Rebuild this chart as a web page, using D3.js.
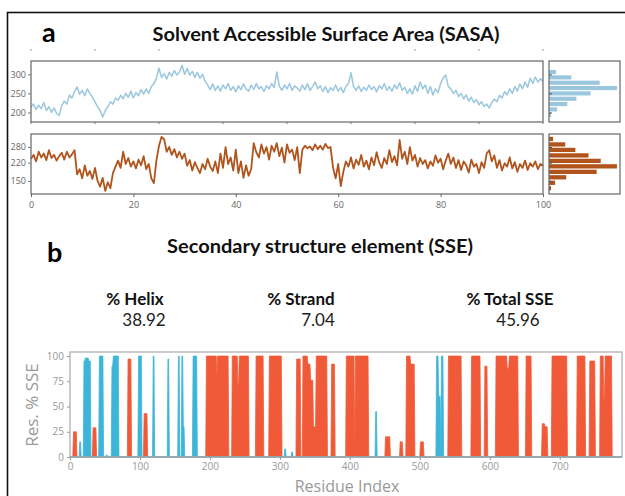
<!DOCTYPE html>
<html>
<head>
<meta charset="utf-8">
<script src="https://cdn.jsdelivr.net/npm/d3@7"></script>
<style>
  body { margin: 0; background: #fff; }
  svg { display: block; }
</style>
</head>
<body>
<svg width="625" height="496"></svg>
<script>
// SASA traces, one value every 0.5 ns from 0 to 100 ns
const sasaStep = 0.5;
const sasaTop = [
  214,222,208,219,210,226,205,215,200,212,198,192,218,230,222,246,238,255,267,248,
  258,244,262,250,240,228,215,205,188,205,215,228,222,238,232,245,236,250,240,256,
  238,252,244,260,248,262,250,268,275,290,316,292,302,288,305,295,310,298,306,324,
  300,316,298,308,292,305,290,300,282,272,260,275,258,270,256,272,262,276,258,268,
  254,270,260,275,262,256,272,260,276,262,268,255,270,262,276,265,306,270,258,272,
  262,276,258,270,264,256,272,260,275,258,268,280,262,270,255,268,252,265,258,272,
  256,266,252,268,276,304,268,258,270,255,266,258,272,260,268,254,270,262,276,258,
  268,256,272,262,278,258,266,250,262,248,270,255,280,262,272,250,268,246,262,252,
  276,290,298,268,262,250,258,242,250,236,246,230,240,226,234,220,228,216,222,212,
  226,235,228,245,238,255,246,262,250,268,256,275,262,280,266,290,276,293,280,288,
  282
];
const sasaBottom = [
  235,250,225,262,240,255,230,268,238,250,228,245,258,232,262,240,252,268,175,195,
  160,210,170,188,158,200,150,128,162,112,145,122,180,205,228,200,262,215,238,205,
  225,198,232,210,245,195,215,160,142,230,285,319,310,262,280,250,272,240,262,235,
  255,208,230,190,222,200,180,215,195,235,205,188,225,180,255,200,280,215,240,190,
  270,180,225,162,210,170,195,295,260,240,290,255,280,232,285,262,295,245,278,220,
  290,258,270,230,280,180,270,285,275,282,268,290,272,285,270,292,276,280,200,160,
  215,130,185,225,205,240,198,232,212,250,205,228,195,240,210,260,222,200,238,215,
  268,222,245,210,307,235,262,215,280,228,250,205,238,215,230,198,225,208,248,220,
  235,195,228,255,215,240,200,230,192,225,210,182,232,205,215,180,222,200,255,268,
  225,248,200,230,190,218,205,240,198,222,185,215,200,228,192,218,205,225,195,215,
  208
];

// marginal histograms (bin centre, frame count)
const histTopBins = [306, 292, 278, 264, 250, 236, 222, 208, 194];
const histTopCounts = [7, 22, 50, 67, 41, 27, 18, 8, 2];
const histBottomBins = [311, 290, 269, 248, 227, 206, 185, 164, 143, 122];
const histBottomCounts = [4, 16, 26, 39, 51, 67, 47, 17, 6, 2];

const timeTicks = [0, 20, 40, 60, 80, 100];
const faintTicks = [0, 12.5, 25, 75, 87.5, 100];
const topTicks = [200, 250, 300];
const bottomTicks = [150, 220, 280];

// secondary structure per residue: [first residue, last residue, % of frames]
const helixSegs = [
  [5,9,25],[33,37,29],[83,87,97],[106,110,43],[195,209,100],[209,211,80],[211,226,100],
  [232,239,100],[239,242,72],[242,255,100],[266,276,100],[285,302,100],[324,329,97],
  [333,339,100],[339,343,92],[343,347,76],[347,351,30],[352,367,100],[374,378,92],
  [395,406,100],[408,426,100],[451,457,20],[472,475,15],[481,486,100],[486,492,92],
  [501,505,15],[541,559,100],[574,586,100],[593,596,90],[609,624,100],[624,628,88],
  [628,640,100],[652,659,100],[675,678,33],[679,682,30],[689,710,100],[725,736,100],
  [743,750,95],[758,762,100],[762,765,58],[765,774,100]
];
const strandSegs = [
  [14,15,15],[20,22,95],[22,26,98],[27,29,95],[42,47,100],[52,53,2],[60,62,90],
  [62,69,100],[98,102,100],[119,120,100],[140,141,97],[155,156,100],[160,161,100],
  [162,163,30],[176,181,100],[307,308,8],[317,318,5],[437,438,45],[524,526,100],
  [527,529,60],[531,533,100]
];
const residueCount = 789;
const sseTicksX = [0, 100, 200, 300, 400, 500, 600, 700];
const sseTicksY = [0, 25, 50, 75, 100];

const statLabels = ["% Helix", "% Strand", "% Total SSE"];
const statValues = ["38.92", "7.04", "45.96"];

const svg = d3.select("svg");
const calibri = "Lato, 'Open Sans', sans-serif";
const plain = "'Open Sans', 'DejaVu Sans', sans-serif";

// outer frame
svg.append("rect")
  .attr("x", 7.5).attr("y", 12.5).attr("width", 700).attr("height", 600)
  .attr("fill", "none").attr("stroke", "#111").attr("stroke-width", 1.6);

// ---------- panel a ----------
svg.append("text").attr("x", 42).attr("y", 42)
  .style("font", "bold 27px " + calibri).text("a");
svg.append("text").attr("x", 326).attr("y", 41).attr("text-anchor", "middle")
  .attr("textLength", 347).attr("lengthAdjust", "spacingAndGlyphs")
  .style("font", "bold 19px " + calibri).style("fill", "#111")
  .text("Solvent Accessible Surface Area (SASA)");

const x = d3.scaleLinear().domain([0, 100]).range([31, 543]);
const hx = d3.scaleLinear().domain([0, 70]).range([549, 620]);

svg.append("g").selectAll("line").data(faintTicks).enter().append("line")
  .attr("x1", d => x(d)).attr("x2", d => x(d)).attr("y1", 49).attr("y2", 51)
  .attr("stroke", "#bbb").attr("stroke-width", 1.5);

function tracePanel(values, y, ticks, color, bins, counts, binWidth, showX) {
  const [bottom, top] = y.range();
  const g = svg.append("g");

  const line = d3.line()
    .x((d, i) => x(i * sasaStep))
    .y(d => y(d));
  g.append("path").datum(values)
    .attr("d", line).attr("fill", "none")
    .attr("stroke", color).attr("stroke-width", showX ? 1.8 : 1.5)
    .attr("stroke-linejoin", "round");

  g.append("rect").attr("x", x(0)).attr("y", top)
    .attr("width", x(100) - x(0)).attr("height", bottom - top)
    .attr("fill", "none").attr("stroke", "#666").attr("stroke-width", 1.2);

  const yAxis = g.append("g").attr("transform", `translate(${x(0)},0)`)
    .call(d3.axisLeft(y).tickValues(ticks).tickSize(3).tickPadding(2));
  yAxis.select(".domain").remove();
  yAxis.selectAll("line").attr("stroke", "#777");
  yAxis.selectAll("text").style("font", "9px " + plain).style("fill", "#666");

  // marginal histogram
  g.selectAll("rect.bar").data(bins).enter().append("rect")
    .attr("class", "bar")
    .attr("x", hx(0))
    .attr("y", d => y(d + binWidth / 2) + 0.6)
    .attr("width", (d, i) => hx(counts[i]) - hx(0))
    .attr("height", d => y(d - binWidth / 2) - y(d + binWidth / 2) - 1.2)
    .attr("fill", color);
  g.append("rect").attr("x", hx(0)).attr("y", top)
    .attr("width", hx(70) - hx(0)).attr("height", bottom - top)
    .attr("fill", "none").attr("stroke", "#666").attr("stroke-width", 1.2);
  const hAxis = g.append("g").attr("transform", `translate(${hx(0)},0)`)
    .call(d3.axisRight(y).tickValues(ticks).tickSize(3).tickFormat(""));
  hAxis.select(".domain").remove();
  hAxis.selectAll("line").attr("stroke", "#555");

  if (showX) {
    const xAxis = g.append("g").attr("transform", `translate(0,${bottom})`)
      .call(d3.axisBottom(x).tickValues(timeTicks).tickSize(3).tickPadding(5));
    xAxis.select(".domain").remove();
    xAxis.selectAll("line").attr("stroke", "#666");
    xAxis.selectAll("text").style("font", "9px " + plain).style("fill", "#666");
  } else {
    g.selectAll("line.ft").data(d3.range(0, 101, 12.5)).enter().append("line")
      .attr("x1", d => x(d)).attr("x2", d => x(d))
      .attr("y1", bottom).attr("y2", bottom + 2)
      .attr("stroke", "#777");
  }
}

const yTop = d3.scaleLinear().domain([175, 335]).range([122, 61]);
const yBottom = d3.scaleLinear().domain([100, 330]).range([194, 134]);
tracePanel(sasaTop, yTop, topTicks, "#9ac7de", histTopBins, histTopCounts, 14, false);
tracePanel(sasaBottom, yBottom, bottomTicks, "#b0541c", histBottomBins, histBottomCounts, 21, true);

// ---------- panel b ----------
svg.append("text").attr("x", 47).attr("y", 262)
  .style("font", "bold 27px " + calibri).text("b");
svg.append("text").attr("x", 320).attr("y", 253).attr("text-anchor", "middle")
  .attr("textLength", 306).attr("lengthAdjust", "spacingAndGlyphs")
  .style("font", "bold 18px " + calibri).style("fill", "#111")
  .text("Secondary structure element (SSE)");

const labelX = [135, 301, 510];
const valueX = [144, 318, 518];
svg.append("g").selectAll("text").data(statLabels).enter().append("text")
  .attr("x", (d, i) => labelX[i]).attr("y", 305).attr("text-anchor", "middle")
  .style("font", "bold 17px " + calibri).style("fill", "#111").text(d => d);
svg.append("g").selectAll("text").data(statValues).enter().append("text")
  .attr("x", (d, i) => valueX[i]).attr("y", 326).attr("text-anchor", "middle")
  .style("font", "17px " + calibri).style("fill", "#222").text(d => d);

const sx = d3.scaleLinear().domain([0, residueCount]).range([70, 622]);
const sy = d3.scaleLinear().domain([0, 104]).range([457, 352]);

function profile(segs) {
  const p = new Array(residueCount + 1).fill(0);
  segs.forEach(([s, e, h]) => { for (let r = s; r <= e; r++) p[r] = Math.max(p[r], h); });
  return p;
}
const area = d3.area()
  .x((d, i) => sx(i)).y0(sy(0)).y1(d => sy(d));

const sseG = svg.append("g");
sseG.append("path").datum(profile(helixSegs))
  .attr("d", area).attr("fill", "#f05a38")
  .attr("stroke", "#f05a38").attr("stroke-width", 0.8);
sseG.append("path").datum(profile(strandSegs))
  .attr("d", area).attr("fill", "#3cb5d8")
  .attr("stroke", "#3cb5d8").attr("stroke-width", 0.8);

sseG.append("rect").attr("x", sx(0)).attr("y", 352)
  .attr("width", sx(residueCount) - sx(0)).attr("height", 457 - 352)
  .attr("fill", "none").attr("stroke", "#aaa").attr("stroke-width", 1.2);

const sxAxis = sseG.append("g").attr("transform", `translate(0,${sy(0)})`)
  .call(d3.axisBottom(sx).tickValues(sseTicksX).tickSize(3).tickPadding(3));
sxAxis.select(".domain").remove();
sxAxis.selectAll("line").attr("stroke", "#999");
sxAxis.selectAll("text").style("font", "10px " + plain).style("fill", "#999");

const syAxis = sseG.append("g").attr("transform", `translate(${sx(0)},0)`)
  .call(d3.axisLeft(sy).tickValues(sseTicksY).tickSize(3).tickPadding(3));
syAxis.select(".domain").remove();
syAxis.selectAll("line").attr("stroke", "#999");
syAxis.selectAll("text").style("font", "10px " + plain).style("fill", "#999");

sseG.append("text").attr("transform", "translate(38,405) rotate(-90)")
  .attr("text-anchor", "middle")
  .style("font", "17px " + plain).style("fill", "#999").text("Res. % SSE");
sseG.append("text").attr("x", 347).attr("y", 492).attr("text-anchor", "middle")
  .style("font", "16px " + plain).style("fill", "#999").text("Residue Index");
</script>
</body>
</html>
